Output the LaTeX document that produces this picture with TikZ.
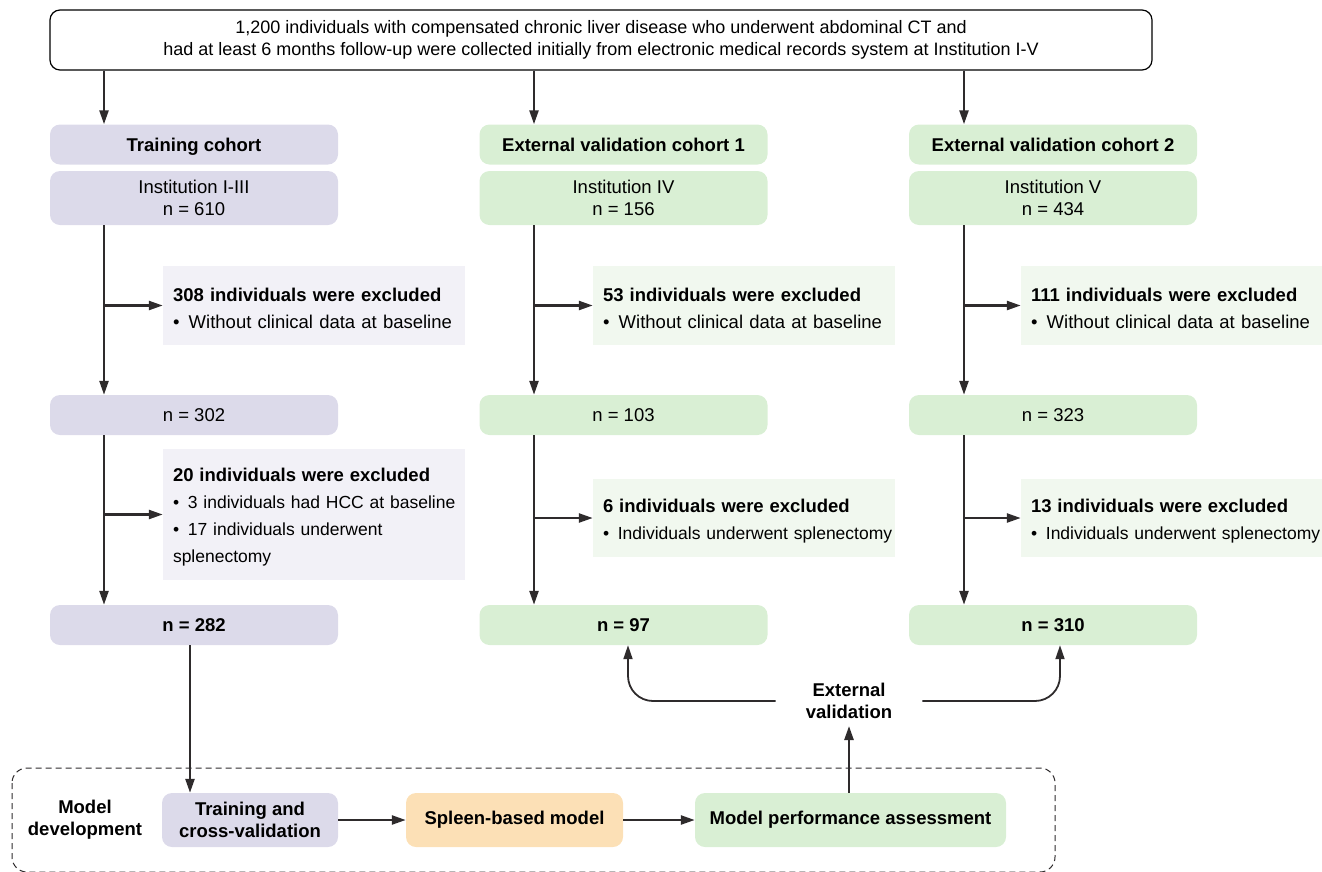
\documentclass[tikz,border=0pt]{standalone}
\usepackage{fontspec}
\setmainfont{Liberation Sans}
\usetikzlibrary{arrows.meta}
\definecolor{lila}{HTML}{DCDAEA}
\definecolor{lilaclaro}{HTML}{F2F1F7}
\definecolor{verde}{HTML}{D9EFD4}
\definecolor{verdeclaro}{HTML}{F1F8EF}
\definecolor{naranja}{HTML}{FCE0B6}
\definecolor{oscuro}{HTML}{2E2B2C}
\newcommand{\titulo}[1]{{\fontsize{18.5}{27}\selectfont\bfseries\rule{0pt}{19pt}#1}}
\begin{document}
\begin{tikzpicture}[
  x=1pt, y=-1pt,
  font=\fontsize{18.5}{22}\selectfont,
  caja/.style={rounded corners=10pt, minimum width=288pt, minimum height=40pt, inner sep=0pt, align=center},
  cabecera/.style={caja, text depth=0pt, font=\fontsize{18.5}{22}\selectfont\bfseries},
  excl/.style={minimum width=302pt, text width=282pt, inner xsep=10pt, align=left, font=\fontsize{18.5}{27}\selectfont},
  paso/.style={rounded corners=10pt, minimum height=54pt, inner sep=0pt, align=center, font=\fontsize{18.5}{22}\selectfont\bfseries},
  flecha/.style={draw=oscuro, line width=2.4pt, -{Triangle[length=14pt,width=9pt]}}
]
\useasboundingbox (0,0) rectangle (1322,871);
\node[draw, line width=1.2pt, rounded corners=10pt, minimum width=1102pt, minimum height=60pt, align=center,
  font=\fontsize{18}{21.5}\selectfont] (inicio) at (601,40)
  {1,200 individuals with compensated chronic liver disease who underwent abdominal CT and\\
   had at least 6 months follow-up were collected initially from electronic medical records system at Institution I-V};

% columnas
\coordinate (x1) at (104,0);
\coordinate (x2) at (534,0);
\coordinate (x3) at (964,0);

\node[cabecera, fill=lila] (cab1) at (194,144.5) {Training cohort};
\node[caja, fill=lila, minimum height=54pt] (inst1) at (194,198) {Institution I-III\\n = 610};
\node[excl, fill=lilaclaro, minimum height=79pt] (ex1a) at (314,305.5)
  {\titulo{308 individuals were excluded}\\\mbox{\textbullet\enspace Without clinical data at baseline}};
\node[caja, fill=lila] (n1a) at (194,415) {n = 302};
\node[excl, fill=lilaclaro, minimum height=131pt, font=\fontsize{17.5}{27}\selectfont] (ex1b) at (314,514.5)
  {\titulo{20 individuals were excluded}\\\mbox{\textbullet\enspace 3 individuals had HCC at baseline}\\
   \mbox{\textbullet\enspace 17 individuals underwent}\\splenectomy};
\node[cabecera, fill=lila] (n1b) at (194,625) {n = 282};

\node[cabecera, fill=verde] (cab2) at (623.5,144.5) {External validation cohort 1};
\node[caja, fill=verde, minimum height=54pt] (inst2) at (623.5,198) {Institution IV\\n = 156};
\node[excl, fill=verdeclaro, minimum height=79pt] (ex2a) at (744,305.5)
  {\titulo{53 individuals were excluded}\\\mbox{\textbullet\enspace Without clinical data at baseline}};
\node[caja, fill=verde] (n2a) at (623.5,415) {n = 103};
\node[excl, fill=verdeclaro, minimum height=78pt, font=\fontsize{17.5}{27}\selectfont] (ex2b) at (744,518)
  {\titulo{6 individuals were excluded}\\\mbox{\textbullet\enspace Individuals underwent splenectomy}};
\node[cabecera, fill=verde] (n2b) at (623.5,625) {n = 97};

\node[cabecera, fill=verde] (cab3) at (1053,144.5) {External validation cohort 2};
\node[caja, fill=verde, minimum height=54pt] (inst3) at (1053,198) {Institution V\\n = 434};
\node[excl, fill=verdeclaro, minimum height=79pt] (ex3a) at (1172,305.5)
  {\titulo{111 individuals were excluded}\\\mbox{\textbullet\enspace Without clinical data at baseline}};
\node[caja, fill=verde] (n3a) at (1053,415) {n = 323};
\node[excl, fill=verdeclaro, minimum height=78pt, font=\fontsize{17.5}{27}\selectfont] (ex3b) at (1172,518)
  {\titulo{13 individuals were excluded}\\\mbox{\textbullet\enspace Individuals underwent splenectomy}};
\node[cabecera, fill=verde] (n3b) at (1053,625) {n = 310};

\draw[flecha] (inicio.south -| x1) -- (cab1.north -| x1);
\draw[flecha] (inicio.south -| x2) -- (cab2.north -| x2);
\draw[flecha] (inicio.south -| x3) -- (cab3.north -| x3);

\draw[flecha] (inst1.south -| x1) -- (n1a.north -| x1);
\draw[flecha] (ex1a.west -| x1) -- (ex1a.west);
\draw[flecha] (n1a.south -| x1) -- (n1b.north -| x1);
\draw[flecha] (ex1b.west -| x1) -- (ex1b.west);
\draw[flecha] (inst2.south -| x2) -- (n2a.north -| x2);
\draw[flecha] (ex2a.west -| x2) -- (ex2a.west);
\draw[flecha] (n2a.south -| x2) -- (n2b.north -| x2);
\draw[flecha] (ex2b.west -| x2) -- (ex2b.west);
\draw[flecha] (inst3.south -| x3) -- (n3a.north -| x3);
\draw[flecha] (ex3a.west -| x3) -- (ex3a.west);
\draw[flecha] (n3a.south -| x3) -- (n3b.north -| x3);
\draw[flecha] (ex3b.west -| x3) -- (ex3b.west);

% desarrollo del modelo
\draw[draw=oscuro, line width=1pt, dash pattern=on 6pt off 4pt, rounded corners=15pt] (12,768) rectangle (1055,872);
\node[align=center, font=\fontsize{18.5}{22}\selectfont\bfseries] (desarrollo) at (85,820) {Model\\development};
\node[paso, fill=lila, minimum width=176pt] (entreno) at (250,820) {Training and\\cross-validation};
\node[paso, fill=naranja, minimum width=217pt] (modelo) at (514.5,820) {Spleen-based model};
\node[paso, fill=verde, minimum width=311pt] (eval) at (850.5,820) {Model performance assessment};
\node[align=center, inner xsep=30pt, inner ysep=7pt, font=\fontsize{18.5}{22}\selectfont\bfseries] (extval) at (849,701) {External\\validation};

\coordinate (xd) at (190,0);
\coordinate (xl) at (628,0);
\coordinate (xr) at (1060,0);
\draw[flecha] (n1b.south -| xd) -- (entreno.north -| xd);
\draw[flecha] (entreno) -- (modelo);
\draw[flecha] (modelo) -- (eval);
\draw[flecha] (eval.north -| extval) -- (extval.south);
\draw[flecha, line width=1.8pt, rounded corners=25pt] (extval.west) -- (xl |- extval.west) -- (n2b.south -| xl);
\draw[flecha, line width=1.8pt, rounded corners=25pt] (extval.east) -- (xr |- extval.east) -- (n3b.south -| xr);
\end{tikzpicture}
\end{document}
